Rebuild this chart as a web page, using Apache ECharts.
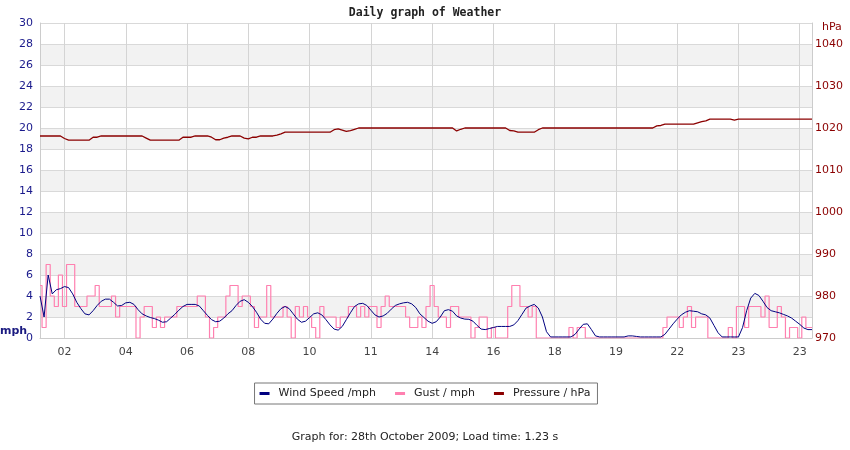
<!DOCTYPE html>
<html lang="en">
<head>
    <meta charset="utf-8" />
    <title>Daily graph of Weather</title>
    <style>
        html,
        body {
            width: 100%;
            margin: 0;
            background: #fff;
        }

        #main {
            width: 850px;
            height: 450px;
        }
    </style>
</head>
<body>
    <div id="main"></div>
    <script src="https://cdn.jsdelivr.net/npm/echarts@6/dist/echarts.min.js"></script>
    <script type="text/javascript">
        // hour labels, one every 15 samples starting at sample 6
        var hourLabels = ['02', '04', '06', '08', '10', '11', '14', '16', '18', '19', '22', '23', '23'];
        var firstLabel = 6;
        var labelStep = 15;

        // wind speed (mph)
        var windSpeed = [
            4.0, 2.0, 6.0, 4.2, 4.6, 4.7, 4.9, 4.8, 4.2, 3.4,
            2.8, 2.3, 2.2, 2.6, 3.1, 3.5, 3.7, 3.7, 3.4, 3.05,
            3.1, 3.35, 3.4, 3.2, 2.7, 2.3, 2.1, 1.95, 1.85, 1.7,
            1.5, 1.55, 1.9, 2.25, 2.65, 3.0, 3.2, 3.2, 3.2, 3.05,
            2.6, 2.15, 1.75, 1.55, 1.6, 1.9, 2.3, 2.6, 3.1, 3.5,
            3.65, 3.4, 3.0, 2.45, 1.8, 1.4, 1.35, 1.8, 2.35, 2.8,
            3.0, 2.8, 2.3, 1.8, 1.5, 1.6, 1.95, 2.3, 2.4, 2.2,
            1.75, 1.25, 0.85, 0.75, 1.1, 1.75, 2.4, 3.0, 3.25, 3.3,
            3.1, 2.65, 2.2, 2.0, 2.1, 2.35, 2.75, 3.1, 3.25, 3.35,
            3.4, 3.25, 2.9, 2.3, 1.95, 1.6, 1.4, 1.55, 2.0, 2.6,
            2.7, 2.55, 2.1, 1.9, 1.8, 1.78, 1.6, 1.2, 0.85, 0.8,
            0.9, 1.0, 1.1, 1.1, 1.1, 1.1, 1.25, 1.65, 2.25, 2.85,
            3.05, 3.2, 2.85, 2.0, 0.6, 0.1, 0.1, 0.1, 0.1, 0.1,
            0.1, 0.35, 0.85, 1.3, 1.35, 0.8, 0.2, 0.1, 0.1, 0.1,
            0.1, 0.1, 0.1, 0.1, 0.2, 0.2, 0.15, 0.1, 0.1, 0.1,
            0.1, 0.1, 0.1, 0.35, 0.85, 1.35, 1.8, 2.2, 2.45, 2.6,
            2.55, 2.5, 2.3, 2.2, 1.9, 1.2, 0.5, 0.1, 0.1, 0.1,
            0.1, 0.1, 1.0, 2.6, 3.8, 4.25, 4.05, 3.5, 2.9, 2.6,
            2.5, 2.4, 2.25, 2.1, 1.9, 1.6, 1.3, 0.95, 0.8, 0.8
        ];

        // gust (mph)
        var gust = [
            5, 1, 7, 4, 3, 6, 3, 7, 7, 3,
            3, 3, 4, 4, 5, 3, 3, 3, 4, 2,
            3, 3, 3, 3, 0, 2, 3, 3, 1, 2,
            1, 2, 2, 2, 3, 3, 3, 3, 3, 4,
            4, 2, 0, 1, 2, 2, 4, 5, 5, 3,
            4, 4, 3, 1, 2, 2, 5, 2, 2, 2,
            3, 2, 0, 3, 2, 3, 2, 1, 0, 3,
            2, 2, 2, 1, 2, 2, 3, 3, 2, 3,
            2, 3, 3, 1, 3, 4, 3, 3, 3, 3,
            2, 1, 1, 2, 1, 3, 5, 3, 2, 2,
            1, 3, 3, 2, 2, 2, 0, 1, 2, 2,
            0, 1, 0, 0, 0, 3, 5, 5, 3, 3,
            2, 3, 0, 0, 0, 0, 0, 0, 0, 0,
            1, 0, 1, 1, 0, 0, 0, 0, 0, 0,
            0, 0, 0, 0, 0, 0, 0, 0, 0, 0,
            0, 0, 0, 1, 2, 2, 2, 1, 2, 3,
            1, 2, 2, 2, 0, 0, 0, 0, 0, 1,
            0, 3, 3, 1, 3, 3, 3, 2, 4, 1,
            1, 3, 2, 0, 1, 1, 0, 2, 1, 1
        ];

        // pressure (hPa)
        var pressure = [
            1018.1, 1018.1, 1018.1, 1018.1, 1018.1, 1018.1, 1017.5, 1017.1, 1017.1, 1017.1,
            1017.1, 1017.1, 1017.1, 1017.8, 1017.8, 1018.1, 1018.1, 1018.1, 1018.1, 1018.1,
            1018.1, 1018.1, 1018.1, 1018.1, 1018.1, 1018.1, 1017.6, 1017.1, 1017.1, 1017.1,
            1017.1, 1017.1, 1017.1, 1017.1, 1017.1, 1017.8, 1017.8, 1017.8, 1018.1, 1018.1,
            1018.1, 1018.1, 1017.8, 1017.2, 1017.2, 1017.6, 1017.8, 1018.1, 1018.1, 1018.1,
            1017.6, 1017.4, 1017.8, 1017.8, 1018.1, 1018.1, 1018.1, 1018.1, 1018.3, 1018.6,
            1019.0, 1019.0, 1019.0, 1019.0, 1019.0, 1019.0, 1019.0, 1019.0, 1019.0, 1019.0,
            1019.0, 1019.0, 1019.6, 1019.8, 1019.5, 1019.2, 1019.4, 1019.7, 1020.0, 1020.0,
            1020.0, 1020.0, 1020.0, 1020.0, 1020.0, 1020.0, 1020.0, 1020.0, 1020.0, 1020.0,
            1020.0, 1020.0, 1020.0, 1020.0, 1020.0, 1020.0, 1020.0, 1020.0, 1020.0, 1020.0,
            1020.0, 1020.0, 1019.3, 1019.7, 1020.0, 1020.0, 1020.0, 1020.0, 1020.0, 1020.0,
            1020.0, 1020.0, 1020.0, 1020.0, 1020.0, 1019.4, 1019.3, 1019.0, 1019.0, 1019.0,
            1019.0, 1019.0, 1019.6, 1020.0, 1020.0, 1020.0, 1020.0, 1020.0, 1020.0, 1020.0,
            1020.0, 1020.0, 1020.0, 1020.0, 1020.0, 1020.0, 1020.0, 1020.0, 1020.0, 1020.0,
            1020.0, 1020.0, 1020.0, 1020.0, 1020.0, 1020.0, 1020.0, 1020.0, 1020.0, 1020.0,
            1020.0, 1020.5, 1020.6, 1020.9, 1020.9, 1020.9, 1020.9, 1020.9, 1020.9, 1020.9,
            1020.9, 1021.2, 1021.5, 1021.7, 1022.1, 1022.1, 1022.1, 1022.1, 1022.1, 1022.1,
            1021.9, 1022.1, 1022.1, 1022.1, 1022.1, 1022.1, 1022.1, 1022.1, 1022.1, 1022.1,
            1022.1, 1022.1, 1022.1, 1022.1, 1022.1, 1022.1, 1022.1, 1022.1, 1022.1, 1022.1
        ];

        var samples = windSpeed.map(function (v, i) { return i; });

        function isLabelIndex(index) {
            return index >= firstLabel && (index - firstLabel) % labelStep === 0;
        }

        var chart = echarts.init(document.getElementById('main'));

        option = {
            animation: false,
            backgroundColor: '#fff',
            textStyle: { fontFamily: 'DejaVu Sans' },
            title: [{
                text: 'Daily graph of Weather',
                left: 'center',
                top: 7,
                padding: 0,
                textStyle: { fontFamily: 'DejaVu Sans Mono', fontWeight: 'bold', fontSize: 11.5, color: '#222' }
            }, {
                text: 'mph',
                left: 0,
                top: 326,
                padding: 0,
                textStyle: { fontFamily: 'DejaVu Sans', fontWeight: 'bold', fontSize: 11, color: '#1a1a80' }
            }, {
                text: 'hPa',
                left: 822,
                top: 22,
                padding: 0,
                textStyle: { fontFamily: 'DejaVu Sans', fontWeight: 'normal', fontSize: 11, color: '#8b0000' }
            }, {
                text: 'Graph for: 28th October 2009; Load time: 1.23 s',
                left: 'center',
                top: 432,
                padding: 0,
                textStyle: { fontFamily: 'DejaVu Sans', fontWeight: 'normal', fontSize: 11, color: '#222' }
            }],
            legend: {
                data: ['Wind Speed /mph', 'Gust / mph', 'Pressure / hPa'],
                left: 'center',
                top: 383,
                icon: 'rect',
                itemWidth: 10,
                itemHeight: 3,
                itemGap: 19,
                padding: [5, 7, 5, 5],
                borderColor: '#777',
                borderWidth: 1,
                borderRadius: 0,
                textStyle: { fontSize: 11, color: '#222', padding: [0, 0, 0, 4] }
            },
            grid: {
                left: 40,
                right: 38,
                top: 23,
                bottom: 112
            },
            xAxis: {
                type: 'category',
                data: samples,
                boundaryGap: false,
                axisLine: { lineStyle: { color: '#cccccc' } },
                axisTick: { show: false },
                axisLabel: {
                    interval: isLabelIndex,
                    color: '#444',
                    fontSize: 11,
                    margin: 9,
                    formatter: function (value, index) {
                        return hourLabels[(index - firstLabel) / labelStep];
                    }
                },
                splitLine: {
                    show: true,
                    interval: isLabelIndex,
                    lineStyle: { color: '#d4d4d4' }
                }
            },
            yAxis: [{
                type: 'value',
                min: 0,
                max: 30,
                interval: 2,
                axisLine: { show: true, lineStyle: { color: '#cccccc' } },
                axisTick: { show: false },
                axisLabel: { color: '#1a1a8c', fontSize: 11, margin: 7 },
                splitLine: { lineStyle: { color: '#d9d9d9' } },
                splitArea: { show: true, areaStyle: { color: ['#ffffff', '#f2f2f2'] } }
            }, {
                type: 'value',
                min: 970,
                max: 1045,
                interval: 10,
                position: 'right',
                axisLine: { show: true, lineStyle: { color: '#cccccc' } },
                axisTick: { show: false },
                axisLabel: {
                    color: '#8b0000',
                    fontSize: 11,
                    margin: 3,
                    formatter: function (v) { return v > 1040 ? '' : v; }
                },
                splitLine: { show: false }
            }],
            series: [{
                name: 'Wind Speed /mph',
                type: 'line',
                data: windSpeed,
                yAxisIndex: 0,
                symbol: 'none',
                z: 4,
                itemStyle: { color: '#000080' },
                lineStyle: { color: '#000080', width: 1 }
            }, {
                name: 'Gust / mph',
                type: 'line',
                data: gust,
                step: 'middle',
                yAxisIndex: 0,
                symbol: 'none',
                z: 3,
                itemStyle: { color: '#ff80b0' },
                lineStyle: { color: '#ff80b0', width: 1.2 }
            }, {
                name: 'Pressure / hPa',
                type: 'line',
                data: pressure,
                yAxisIndex: 1,
                symbol: 'none',
                z: 3,
                itemStyle: { color: '#8b0000' },
                lineStyle: { color: '#8b0000', width: 1.3 }
            }]
        };

        chart.setOption(option);
    </script>
</body>
</html>
